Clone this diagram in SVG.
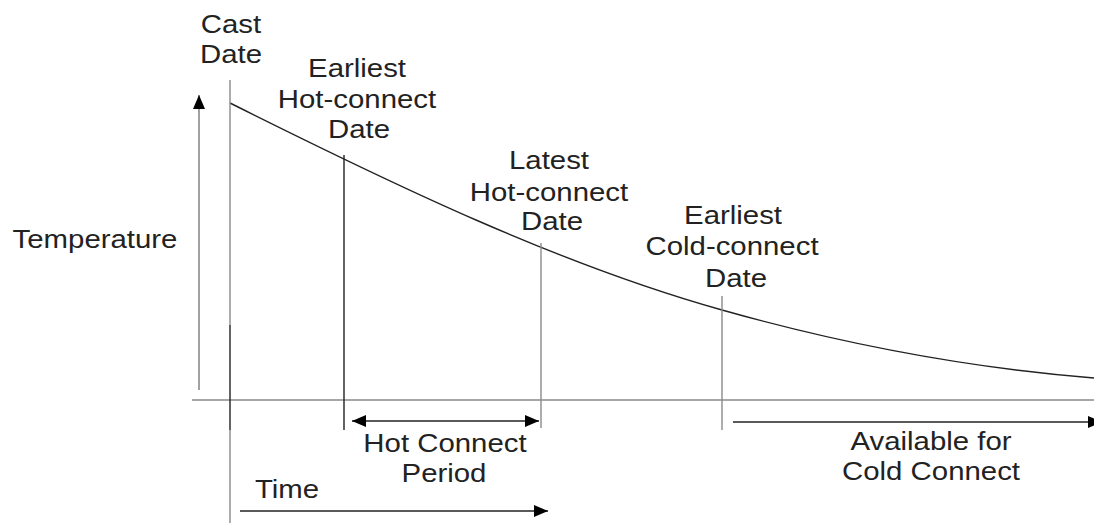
<svg xmlns="http://www.w3.org/2000/svg" width="1094" height="523" viewBox="0 0 1094 523">
  <defs>
    <marker id="arrow" viewBox="0 0 14 12" markerWidth="14" markerHeight="12" refX="14" refY="6" markerUnits="userSpaceOnUse" orient="auto-start-reverse">
      <path d="M0,0 L14,6 L0,12 z" fill="#000"/>
    </marker>
  </defs>
  <style>
    text { font-family: "Liberation Sans", Arial, sans-serif; font-size: 26px; fill: #222; text-anchor: middle; }
    .grey { stroke: #8a8a8a; stroke-width: 1.4; fill: none; }
    .dark { stroke: #222; stroke-width: 1.4; fill: none; }
    .arr { stroke: #222; stroke-width: 1.6; fill: none; marker-end: url(#arrow); }
  </style>
  <rect width="1094" height="523" fill="#fff"/>

  <g id="connectors">
    <line class="grey" x1="192" y1="400" x2="1094" y2="400"/>
    <path class="dark" d="M230,103 C394,185 558,264 722,310 C846,345 970,368 1094,378"/>
    <line class="arr" x1="199" y1="390" x2="199" y2="95" style="stroke:#8a8a8a"/>
    <line class="arr" x1="352" y1="421" x2="539" y2="421" style="marker-start:url(#arrow)"/>
    <line class="arr" x1="733" y1="422" x2="1102" y2="422"/>
    <line class="arr" x1="240" y1="511" x2="548" y2="511"/>
  </g>

  <g id="cast-date">
    <line class="grey" x1="230" y1="80" x2="230" y2="325"/>
    <line class="dark" x1="230" y1="325" x2="230" y2="430"/>
    <line class="grey" x1="230" y1="430" x2="230" y2="523"/>
    <text transform="translate(231,33) scale(1.13,1)">Cast</text>
    <text transform="translate(231,63) scale(1.13,1)">Date</text>
  </g>

  <g id="earliest-hot-connect">
    <line class="dark" x1="344" y1="155" x2="344" y2="430"/>
    <text transform="translate(357,77) scale(1.13,1)">Earliest</text>
    <text transform="translate(357,108) scale(1.13,1)">Hot-connect</text>
    <text transform="translate(359,138) scale(1.13,1)">Date</text>
  </g>

  <g id="latest-hot-connect">
    <line class="grey" x1="541" y1="243" x2="541" y2="428"/>
    <text transform="translate(549,169) scale(1.13,1)">Latest</text>
    <text transform="translate(549,201) scale(1.13,1)">Hot-connect</text>
    <text transform="translate(552,230) scale(1.13,1)">Date</text>
  </g>

  <g id="earliest-cold-connect">
    <line class="grey" x1="722" y1="296" x2="722" y2="430"/>
    <text transform="translate(733,224) scale(1.13,1)">Earliest</text>
    <text transform="translate(732,255) scale(1.13,1)">Cold-connect</text>
    <text transform="translate(736,287) scale(1.13,1)">Date</text>
  </g>

  <g id="temperature">
    <text transform="translate(95,248) scale(1.13,1)">Temperature</text>
  </g>

  <g id="hot-connect-period">
    <text transform="translate(445,452) scale(1.13,1)">Hot Connect</text>
    <text transform="translate(444,482) scale(1.13,1)">Period</text>
  </g>

  <g id="time">
    <text transform="translate(287,498) scale(1.13,1)">Time</text>
  </g>

  <g id="available-cold-connect">
    <text transform="translate(931,450) scale(1.13,1)">Available for</text>
    <text transform="translate(931,480) scale(1.13,1)">Cold Connect</text>
  </g>
</svg>
